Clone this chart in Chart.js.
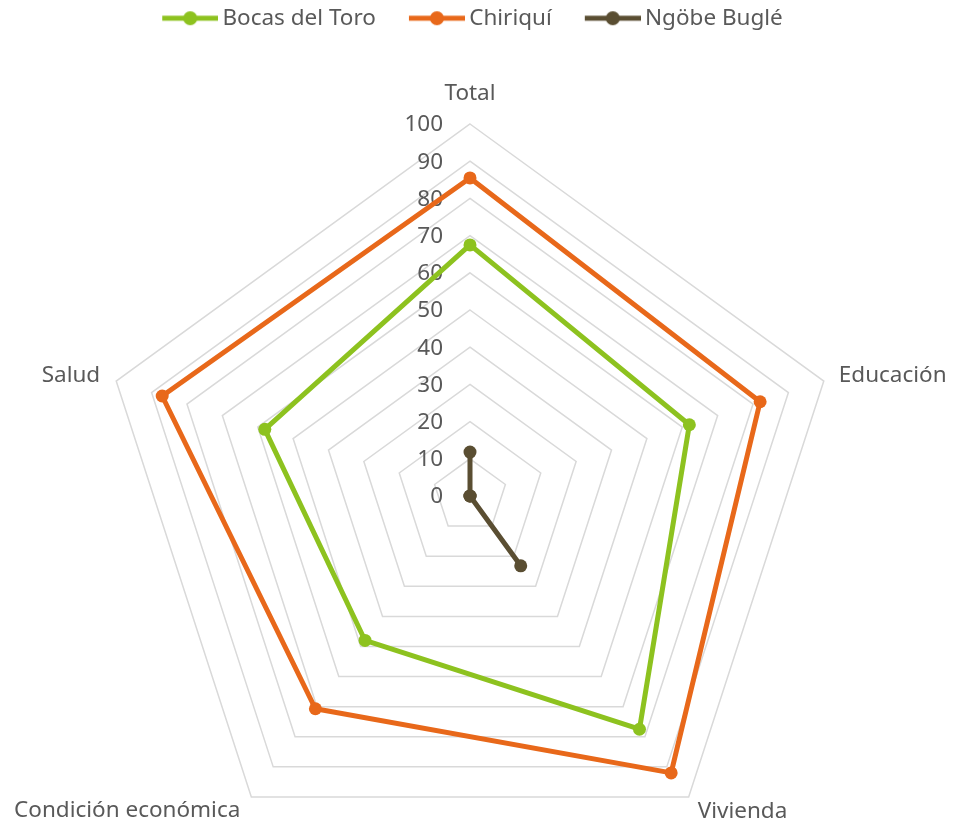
<!DOCTYPE html>
<html><head><meta charset="utf-8">
<script src="https://cdn.jsdelivr.net/npm/chart.js@4.4.1/dist/chart.umd.min.js"></script>
<style>html,body{margin:0;padding:0;background:#fff}#wrap{width:965px;height:824px;position:relative}</style>
</head><body><div id="wrap"><canvas id="c"></canvas></div>
<script>
const categories = ['Total', 'Educación', 'Vivienda', 'Condición económica', 'Salud'];
const seriesNames = ['Bocas del Toro', 'Chiriquí', 'Ngöbe Buglé'];
const bocasDelToro = [67.5, 62, 77.5, 48, 58];
const chiriqui = [85.5, 82, 92, 70.7, 87];
const ngobeBugle = [11.8, 0, 23.2, 0, 0];
const tickLabels = ['0', '10', '20', '30', '40', '50', '60', '70', '80', '90', '100'];

const colors = ['#8DC21F', '#E8681A', '#5A4E32'];
const FONT = '"Noto Sans", "Open Sans", sans-serif';
const TEXT = '#595959';

function legendMarker(color) {
  const W = 89, H = 16;
  const c = document.createElement('canvas');
  c.width = W; c.height = H;
  const g = c.getContext('2d');
  g.strokeStyle = color; g.lineWidth = 5; g.lineCap = 'butt';
  g.beginPath(); g.moveTo(W - 56, H / 2); g.lineTo(W, H / 2); g.stroke();
  g.fillStyle = color;
  g.beginPath(); g.arc(W - 28, H / 2, 7, 0, Math.PI * 2); g.fill();
  return c;
}
const markers = colors.map(legendMarker);

// per-label placement relative to the outer vertex
const labelPlacement = [
  {dx: 0, dy: -24, align: 'center', base: 'alphabetic'},
  {dx: 15, dy: -5, align: 'left', base: 'middle'},
  {dx: 9, dy: 21, align: 'left', base: 'alphabetic'},
  {dx: -11, dy: 20, align: 'right', base: 'alphabetic'},
  {dx: -16, dy: -5, align: 'right', base: 'middle'}
];

const textPlugin = {
  id: 'radarText',
  beforeDatasetsDraw(chart) {
    const s = chart.scales.r, ctx = chart.ctx;
    ctx.save();
    ctx.font = '22.5px ' + FONT;
    ctx.fillStyle = TEXT;
    ctx.textAlign = 'right';
    ctx.textBaseline = 'middle';
    tickLabels.forEach(t => {
      const d = s.getDistanceFromCenterForValue(Number(t));
      ctx.fillText(t, s.xCenter - 27, s.yCenter - d + 1);
    });
    categories.forEach((name, i) => {
      const p = s.getPointPosition(i, s.drawingArea);
      const pl = labelPlacement[i];
      ctx.textAlign = pl.align;
      ctx.textBaseline = pl.base;
      ctx.fillText(name, p.x + pl.dx, p.y + pl.dy);
    });
    ctx.restore();
  }
};

const seriesData = [bocasDelToro, chiriqui, ngobeBugle];

new Chart(document.getElementById('c'), {
  type: 'radar',
  data: {
    labels: categories,
    datasets: seriesData.map((d, i) => ({
      label: seriesNames[i],
      data: d,
      borderColor: colors[i],
      backgroundColor: colors[i],
      pointBackgroundColor: colors[i],
      pointBorderColor: colors[i],
      borderWidth: 5,
      pointRadius: 6.5,
      pointBorderWidth: 0,
      borderJoinStyle: 'round',
      fill: false,
      tension: 0
    }))
  },
  options: {
    responsive: true,
    maintainAspectRatio: false,
    devicePixelRatio: 1,
    animation: false,
    layout: {padding: {left: 0, right: 46, top: 0, bottom: 0}},
    plugins: {
      tooltip: {enabled: false},
      legend: {
        position: 'top',
        labels: {
          usePointStyle: true,
          pointStyleWidth: 75,
          padding: 7,
          color: TEXT,
          font: {family: FONT, size: 22.5},
          generateLabels(chart) {
            return chart.data.datasets.map((ds, i) => ({
              text: ds.label,
              fillStyle: colors[i],
              strokeStyle: colors[i],
              lineWidth: 0,
              pointStyle: markers[i],
              fontColor: TEXT,
              datasetIndex: i,
              hidden: false
            }));
          }
        }
      }
    },
    scales: {
      r: {
        min: 0,
        max: 100,
        beginAtZero: true,
        ticks: {display: false, stepSize: 10},
        grid: {color: '#D9D9D9', lineWidth: 1.5, circular: false},
        angleLines: {display: false},
        pointLabels: {display: false},
        afterFit(scale) {
          scale.xCenter = 470;
          scale.yCenter = 496;
          scale.drawingArea = 372;
        }
      }
    }
  },
  plugins: [textPlugin]
});
</script>
</body></html>
